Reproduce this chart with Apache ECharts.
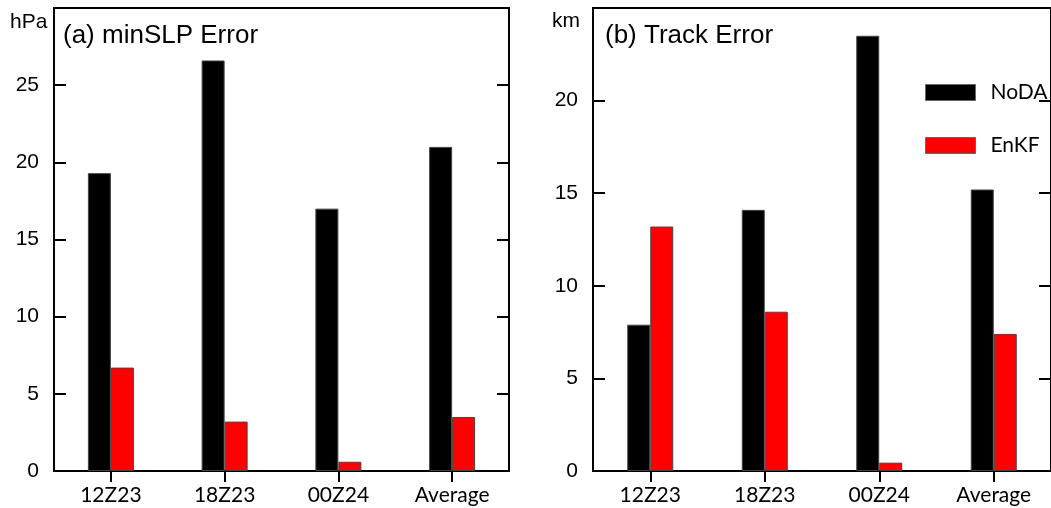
<!DOCTYPE html>
<html>
<head>
<meta charset="utf-8">
<script src="https://cdn.jsdelivr.net/npm/echarts@6/dist/echarts.min.js"></script>
<style>
  html, body { margin: 0; padding: 0; background: #fff; }
  #chart { width: 1051px; height: 508px; }
</style>
</head>
<body>
<div id="chart"></div>
<script>
// Forecast times shared by both panels
const categories = ['12Z23', '18Z23', '00Z24', 'Average'];

// (a) minimum sea-level pressure error, hPa
const slpNoDA = [19.3, 26.6, 17.0, 21.0];
const slpEnKF = [6.7, 3.2, 0.6, 3.5];

// (b) track error, km
const trackNoDA = [7.9, 14.1, 23.5, 15.2];
const trackEnKF = [13.2, 8.6, 0.45, 7.4];

// y-axis ranges and tick steps
const slpAxis = { min: 0, max: 30, interval: 5 };
const trackAxis = { min: 0, max: 25, interval: 5 };

const numFont = '"Liberation Sans", Arial, sans-serif';
const catFont = 'Lato, sans-serif';

const chart = echarts.init(document.getElementById('chart'), null, { renderer: 'canvas' });

function bottomAxis(gridIndex) {
  return {
    type: 'category', gridIndex, position: 'bottom', data: categories,
    axisLine: { show: false }, axisTick: { show: false },
    axisLabel: { color: '#000', fontFamily: catFont, fontSize: 21, margin: 14 }
  };
}
function topAxis(gridIndex) {
  return {
    type: 'category', gridIndex, position: 'top', data: categories,
    axisLine: { show: false },
    axisTick: { show: true, inside: true, alignWithLabel: true, length: 11, lineStyle: { color: '#000', width: 2 } },
    axisLabel: { show: false }
  };
}
function valueAxis(gridIndex, range, side, showLabels) {
  return {
    type: 'value', gridIndex, position: side, min: range.min, max: range.max, interval: range.interval,
    splitLine: { show: false }, axisLine: { show: false },
    axisTick: { show: true, inside: true, length: 12, lineStyle: { color: '#000', width: 2 } },
    axisLabel: { show: showLabels, showMaxLabel: false, color: '#000', fontFamily: numFont, fontSize: 21, margin: 15 }
  };
}
function barSeries(name, color, data, axisIndex) {
  return {
    name, type: 'bar', data, xAxisIndex: axisIndex, yAxisIndex: axisIndex,
    barWidth: 23, barGap: '0%',
    itemStyle: { color, borderColor: '#444', borderWidth: 1 },
    emphasis: { disabled: true }
  };
}
function label(text, x, y, size) {
  return {
    type: 'text', x, y,
    style: { text, fontFamily: numFont, fontSize: size, fill: '#000', verticalAlign: 'middle' }
  };
}

chart.setOption({
  animation: false,
  backgroundColor: '#fff',
  grid: [
    { left: 54, top: 8, width: 455, height: 463, show: true, borderColor: '#000', borderWidth: 2, backgroundColor: 'transparent' },
    { left: 593, top: 8, width: 464, height: 463, show: true, borderColor: '#000', borderWidth: 2, backgroundColor: 'transparent' }
  ],
  xAxis: [bottomAxis(0), topAxis(0), bottomAxis(1), topAxis(1)],
  yAxis: [
    valueAxis(0, slpAxis, 'left', true), valueAxis(0, slpAxis, 'right', false),
    valueAxis(1, trackAxis, 'left', true), valueAxis(1, trackAxis, 'right', false)
  ],
  legend: {
    orient: 'vertical', left: 920, top: 77,
    icon: 'rect',
    itemWidth: 50, itemHeight: 16, itemGap: 32,
    data: ['NoDA', 'EnKF'],
    itemStyle: { borderColor: '#666', borderWidth: 1 },
    textStyle: { fontFamily: catFont, fontSize: 21, color: '#000', padding: [0, 0, 0, 10] }
  },
  graphic: [
    label('(a) minSLP Error', 63, 36, 26),
    label('(b) Track Error', 605, 36, 26),
    label('hPa', 10, 22, 21),
    label('km', 552, 21, 21)
  ],
  series: [
    barSeries('NoDA', '#000', slpNoDA, 0),
    barSeries('EnKF', '#ff0000', slpEnKF, 0),
    barSeries('NoDA', '#000', trackNoDA, 2),
    barSeries('EnKF', '#ff0000', trackEnKF, 2)
  ]
});
</script>
</body>
</html>
